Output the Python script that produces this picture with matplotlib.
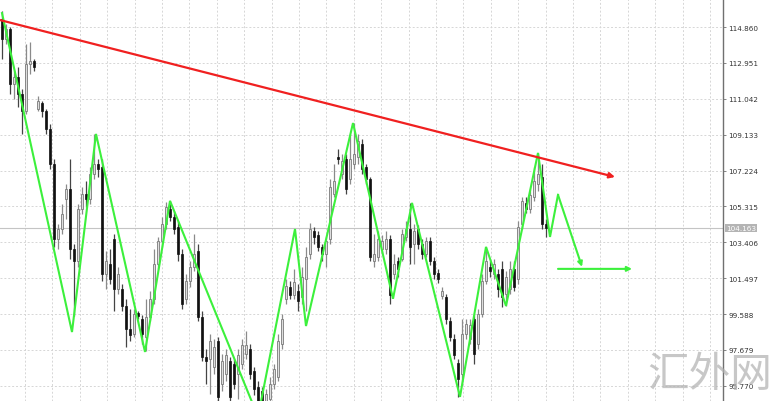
import matplotlib
matplotlib.use("Agg")
import matplotlib.pyplot as plt
import numpy as np

# ---------------- data ----------------
opens = [115.29, 114.22, 114.75, 111.83, 112.20, 111.30, 110.39, 112.89, 113.05, 110.50,
         110.82, 110.39, 109.43, 107.57, 103.58, 104.11, 105.71, 106.24, 103.05, 102.41,
         105.18, 105.98, 105.71, 107.04, 107.57, 107.41, 101.72, 102.25, 103.58, 100.92,
         100.92, 100.02, 98.79, 98.53, 99.64, 99.33, 98.37, 99.43, 100.39, 102.25,
         103.48, 104.38, 105.18, 104.75, 104.22, 102.78, 100.39, 101.35, 102.09, 102.94,
         99.43, 97.30, 97.20, 96.77, 98.16, 95.87, 96.40, 97.09, 96.93, 96.40,
         96.93, 97.46, 97.73, 96.56, 95.71, 95.50, 94.80, 95.07, 95.87, 96.24,
         98.00, 100.39, 101.03, 100.60, 100.82, 100.50, 101.45, 102.78, 104.01, 103.80,
         103.16, 102.78, 103.58, 105.98, 107.94, 107.04, 107.84, 106.77, 107.57, 107.94,
         108.64, 107.41, 106.77, 102.41, 102.62, 103.05, 103.05, 103.58, 101.72, 102.41,
         102.52, 103.69, 104.11, 103.32, 104.11, 103.32, 102.78, 103.48, 102.41, 101.77,
         100.55, 100.50, 99.22, 98.26, 96.99, 96.40, 98.53, 98.26, 99.33, 98.00,
         99.59, 101.35, 102.09, 101.72, 101.72, 101.99, 100.66, 100.92, 101.99, 101.45,
         104.38, 105.50, 105.18, 105.82, 106.51, 106.88, 104.38]
closes = [114.22, 114.75, 111.83, 112.20, 111.30, 110.39, 112.89, 113.05, 112.73, 110.92,
          110.39, 109.43, 107.57, 103.58, 104.11, 104.91, 106.24, 103.05, 102.41, 105.18,
          105.98, 105.71, 107.04, 107.57, 107.31, 101.72, 102.41, 101.45, 100.92, 101.72,
          100.02, 98.79, 98.47, 99.59, 99.48, 98.53, 99.43, 100.39, 102.25, 103.48,
          104.38, 105.28, 104.75, 104.11, 102.78, 100.12, 101.35, 102.09, 102.78, 99.43,
          97.30, 97.09, 98.16, 97.84, 95.18, 97.09, 97.41, 95.18, 95.87, 97.41,
          97.94, 97.94, 96.40, 95.60, 94.80, 94.54, 95.34, 95.87, 96.67, 98.16,
          99.33, 101.08, 100.60, 101.30, 100.28, 101.56, 102.62, 104.11, 103.69, 103.16,
          102.78, 103.48, 106.35, 106.67, 107.84, 107.73, 106.24, 107.84, 108.10, 108.80,
          107.31, 106.77, 102.62, 102.78, 103.58, 103.48, 103.58, 100.60, 102.25, 101.99,
          103.85, 104.11, 103.16, 104.01, 103.32, 102.78, 103.48, 102.41, 101.72, 101.45,
          100.82, 99.33, 98.37, 97.41, 96.13, 98.53, 99.06, 99.01, 97.46, 99.59,
          101.35, 102.41, 101.88, 102.25, 100.92, 100.50, 101.56, 101.99, 101.03, 104.22,
          105.60, 105.18, 105.92, 106.67, 107.04, 104.38, 104.17]
highs = [115.71, 115.02, 114.86, 112.52, 112.73, 111.56, 113.96, 114.06, 113.16, 111.19,
         110.92, 110.50, 109.70, 107.84, 104.38, 105.44, 106.51, 107.84, 103.32, 105.44,
         106.35, 106.67, 107.41, 109.17, 107.84, 107.84, 102.94, 103.05, 103.85, 102.09,
         101.19, 100.39, 99.86, 99.86, 99.75, 99.54, 100.39, 100.82, 103.05, 103.69,
         104.75, 105.55, 105.60, 105.07, 104.54, 103.05, 101.72, 102.41, 103.85, 103.32,
         99.75, 97.73, 98.53, 98.26, 98.37, 97.46, 97.73, 97.30, 97.20, 97.73,
         98.26, 98.69, 98.00, 96.77, 96.03, 95.71, 95.60, 96.24, 96.93, 98.53,
         99.59, 101.45, 101.35, 101.99, 101.19, 102.09, 103.16, 104.43, 104.22, 104.01,
         103.32, 103.69, 106.77, 107.57, 108.37, 108.10, 108.10, 109.17, 109.75, 109.17,
         108.90, 107.57, 106.88, 103.85, 104.01, 103.80, 104.01, 103.80, 102.78, 102.62,
         104.11, 104.54, 105.50, 104.38, 104.33, 103.58, 103.69, 103.69, 102.62, 101.99,
         101.03, 100.66, 99.43, 98.53, 97.20, 99.33, 99.33, 99.33, 99.54, 99.86,
         101.72, 103.16, 102.41, 102.52, 101.99, 102.41, 101.88, 102.41, 102.41, 104.54,
         105.82, 105.82, 106.24, 107.41, 108.16, 107.57, 104.65]
lows = [113.16, 113.96, 111.30, 111.03, 110.60, 109.17, 110.23, 112.36, 112.52, 110.39,
        110.07, 109.17, 107.31, 103.16, 103.05, 103.85, 104.65, 102.52, 99.50, 102.09,
        104.91, 105.28, 105.44, 106.77, 106.88, 101.35, 100.92, 101.19, 99.75, 100.66,
        99.75, 97.84, 98.16, 98.37, 99.33, 98.00, 97.62, 99.22, 100.12, 101.99,
        103.16, 104.11, 104.54, 103.85, 102.41, 99.86, 100.12, 101.03, 101.88, 99.22,
        97.09, 95.87, 95.34, 96.40, 94.96, 95.50, 96.03, 94.96, 95.60, 95.07,
        96.67, 97.20, 96.13, 95.28, 94.27, 94.11, 94.43, 94.80, 95.60, 96.03,
        97.73, 100.12, 100.39, 100.39, 99.75, 100.12, 99.75, 102.52, 103.32, 102.94,
        102.41, 102.09, 103.32, 105.82, 107.57, 106.77, 105.98, 106.51, 107.31, 107.57,
        107.04, 106.51, 102.41, 102.09, 102.41, 102.78, 102.78, 100.12, 101.45, 101.56,
        102.41, 103.48, 102.25, 102.25, 103.05, 102.52, 102.62, 102.20, 101.45, 101.24,
        100.39, 99.06, 98.16, 97.20, 95.18, 95.87, 98.26, 98.00, 96.93, 97.73,
        99.43, 101.19, 101.56, 101.45, 100.50, 99.96, 100.02, 100.66, 100.82, 101.19,
        104.11, 104.96, 104.96, 105.60, 106.14, 104.11, 103.69]

zigzag_x = [0, 17.5, 23.5, 35.75, 42, 64, 73.25, 76, 87.75, 97.75, 102.5,
            114.5, 121, 126, 134, 137, 139]
zigzag_y = [115.60, 98.63, 109.17, 97.57, 105.61, 94.12, 104.11, 98.95, 109.75,
            100.40, 105.50, 95.18, 103.16, 100.02, 108.16, 103.69, 105.93]
proj_end = (145, 102.10)
target_line = [(139, 101.99), (157.5, 101.99)]
trend_line = [(-0.5, 115.23), (153.25, 106.88)]

current_price = 104.163
y_ticks = [114.860, 112.951, 111.042, 109.133, 107.224, 105.315, 103.406,
           101.497, 99.588, 97.679, 95.770]
watermark = "汇外网"

# ---------------- figure ----------------
W, H = 780, 402
fig = plt.figure(figsize=(W / 100, H / 100), dpi=100)
ax = fig.add_axes([0, 0, 723 / W, 1])
ax.set_facecolor("white")

ax.set_xlim(-0.5, 180.25)
ax.set_ylim(94.96, 116.35)

# grid
for yt in y_ticks:
    ax.axhline(yt, color="#d6d6d6", lw=0.7, ls=(0, (2, 2)), zorder=0)
for gx in np.arange(5.75, 180, 6.85):
    ax.axvline(gx, color="#d6d6d6", lw=0.7, ls=(0, (2, 2)), zorder=0)

ax.axhline(current_price, color="#c4c4c4", lw=0.8, zorder=0.5)

# candles
n = len(closes)
idx = np.arange(n)
o = np.array(opens); c = np.array(closes)
h = np.array(highs); l = np.array(lows)
bull = c >= o
bw = 0.62
ax.vlines(idx[bull], l[bull], h[bull], color="#8a8a8a", lw=0.9, zorder=2)
ax.vlines(idx[~bull], l[~bull], h[~bull], color="#444444", lw=0.9, zorder=2)
bot = np.minimum(o, c)
hgt = np.maximum(np.abs(c - o), 0.06)
ax.bar(idx[bull], hgt[bull], bottom=bot[bull], width=bw, color="#dedede",
       edgecolor="#7a7a7a", linewidth=0.6, zorder=3)
ax.bar(idx[~bull], hgt[~bull], bottom=bot[~bull], width=bw, color="#111111",
       edgecolor="#111111", linewidth=0.5, zorder=3)

# red trend line with arrow
green = "#3cf03c"
ax.annotate("", xy=trend_line[1], xytext=trend_line[0],
            arrowprops=dict(arrowstyle="-|>", color="#f02020", lw=1.6,
                            mutation_scale=8, shrinkA=0, shrinkB=0), zorder=5)

# green zigzag
ax.plot(zigzag_x, zigzag_y, color=green, lw=1.5, zorder=4, solid_joinstyle="miter")
ax.annotate("", xy=proj_end, xytext=(zigzag_x[-1], zigzag_y[-1]),
            arrowprops=dict(arrowstyle="-|>", color=green, lw=1.5,
                            mutation_scale=7, shrinkA=0, shrinkB=0), zorder=4)
ax.annotate("", xy=target_line[1], xytext=target_line[0],
            arrowprops=dict(arrowstyle="-|>", color=green, lw=1.5,
                            mutation_scale=7, shrinkA=0, shrinkB=0), zorder=4)

# axes / ticks on right
for s in ["top", "left", "bottom"]:
    ax.spines[s].set_visible(False)
ax.spines["right"].set_color("#707070")
ax.spines["right"].set_linewidth(1.0)
ax.set_xticks([])
ax.yaxis.tick_right()
ax.set_yticks(y_ticks)
ax.set_yticklabels([f"{v:.3f}" for v in y_ticks], fontsize=5.2, color="#333333",
                   family="DejaVu Sans")
ax.tick_params(axis="y", length=2.5, width=0.6, color="#707070", pad=1.5)

# current price label
ax.text(1.004, (current_price - 94.96) / (116.35 - 94.96), f"{current_price:.3f}",
        transform=ax.transAxes, fontsize=5.2, color="white", va="center", ha="left",
        bbox=dict(boxstyle="square,pad=0.15", fc="#b4b4b4", ec="none"), zorder=6,
        clip_on=False)

# watermark
fig.text(710 / W, 1 - 376 / H, watermark, fontsize=30, color="#b0b0b0",
         family=["Noto Sans CJK SC", "DejaVu Sans"], fontweight="light",
         ha="center", va="center", alpha=0.7)

fig.savefig("out.png", dpi=100, facecolor="white")
